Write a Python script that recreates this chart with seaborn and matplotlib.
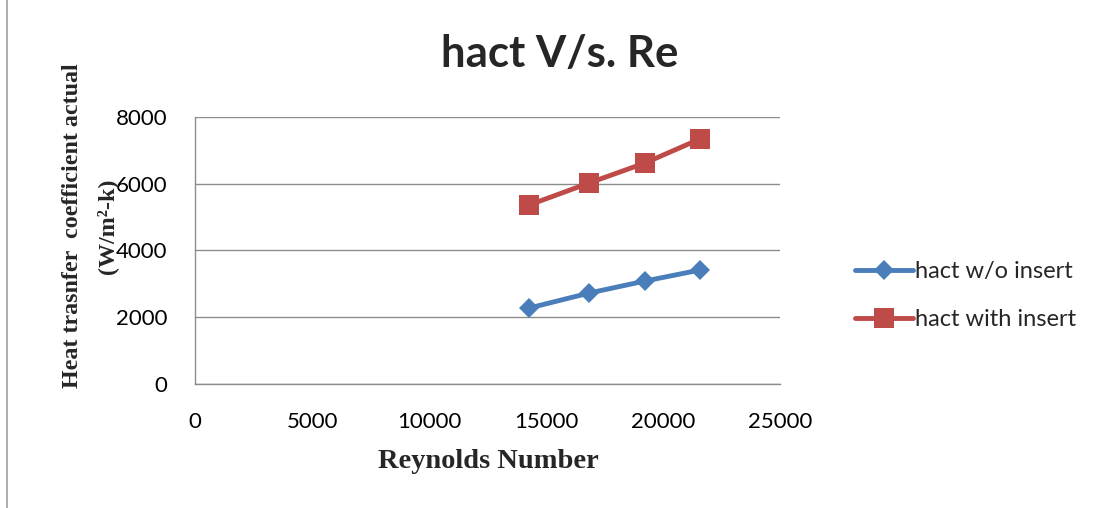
import pandas as pd
import numpy as np
import matplotlib.pyplot as plt
import seaborn as sns
from matplotlib.lines import Line2D

# Data
reynolds = [14270, 16840, 19230, 21580]
hact_without_insert = [2275, 2725, 3085, 3415]
hact_with_insert = [5360, 6020, 6620, 7340]
series_names = ['hact w/o insert', 'hact with insert']

sns.set_style('white')
plt.rcParams['font.family'] = ['Lato', 'DejaVu Sans']

df = pd.DataFrame({
    'Re': reynolds * 2,
    'hact': hact_without_insert + hact_with_insert,
    'series': [series_names[0]] * 4 + [series_names[1]] * 4,
})

colors = {series_names[0]: '#4A7EBB', series_names[1]: '#BE4B48'}
markers = {series_names[0]: 'D', series_names[1]: 's'}
msizes = {series_names[0]: 10.5, series_names[1]: 14}

fig = plt.figure(figsize=(11.02, 5.08), dpi=100)
ax = fig.add_axes([0.177, 0.244, 0.531, 0.526])

for name in series_names:
    sub = df[df['series'] == name]
    sns.lineplot(data=sub, x='Re', y='hact', ax=ax, color=colors[name],
                 marker=markers[name], markersize=msizes[name],
                 linewidth=3.5, markeredgewidth=0, label=name, legend=False)

ax.set_xlim(0, 25000)
ax.set_ylim(0, 8000)
ax.set_xticks(np.arange(0, 25001, 5000))
ax.set_yticks(np.arange(0, 8001, 2000))
ax.grid(axis='y', color='#8c8c8c', linewidth=1)
ax.set_axisbelow(True)
for side in ['top', 'right']:
    ax.spines[side].set_visible(False)
for side in ['left', 'bottom']:
    ax.spines[side].set_color('#8c8c8c')
    ax.spines[side].set_linewidth(1)
ax.tick_params(axis='both', labelsize=16, colors='#8c8c8c', labelcolor='black',
               width=1, direction='out')
ax.tick_params(axis='y', length=4, pad=16)
ax.tick_params(axis='x', length=0, pad=20)
ax.set_xlabel('')
ax.set_ylabel('')

fig.text(488 / 1102, 1 - 462 / 508, 'Reynolds Number', ha='center', va='center',
         fontsize=20.5, fontweight='bold', family='Liberation Serif')
fig.text(90 / 1102, 1 - 226 / 508, 'Heat trasnfer  coefficient actual\n(W/m²-k)',
         ha='center', va='center', rotation=90, fontsize=17.3, fontweight='bold',
         family='Liberation Serif', linespacing=1.8)

fig.text(560 / 1102, 1 - 54 / 508, 'hact V/s. Re', ha='center', va='center',
         fontsize=31.5, fontweight='bold')

handles = [Line2D([], [], color=colors[n], marker=markers[n], linewidth=3.5,
                  markersize=msizes[n], markeredgewidth=0)
           for n in series_names]
fig.legend(handles, series_names, loc='center left', bbox_to_anchor=(0.776, 0.418),
           frameon=False, fontsize=17, handlelength=2.45, handletextpad=0.1,
           labelspacing=1.15, borderpad=0, borderaxespad=0)

# outer chart border (only the left edge is visible in the reference)
fig.add_artist(Line2D([0.0065, 0.0065], [0, 1], color='#a0a0a0', linewidth=1.2,
                      transform=fig.transFigure))

fig.savefig('out.png', dpi=100, facecolor='white')
